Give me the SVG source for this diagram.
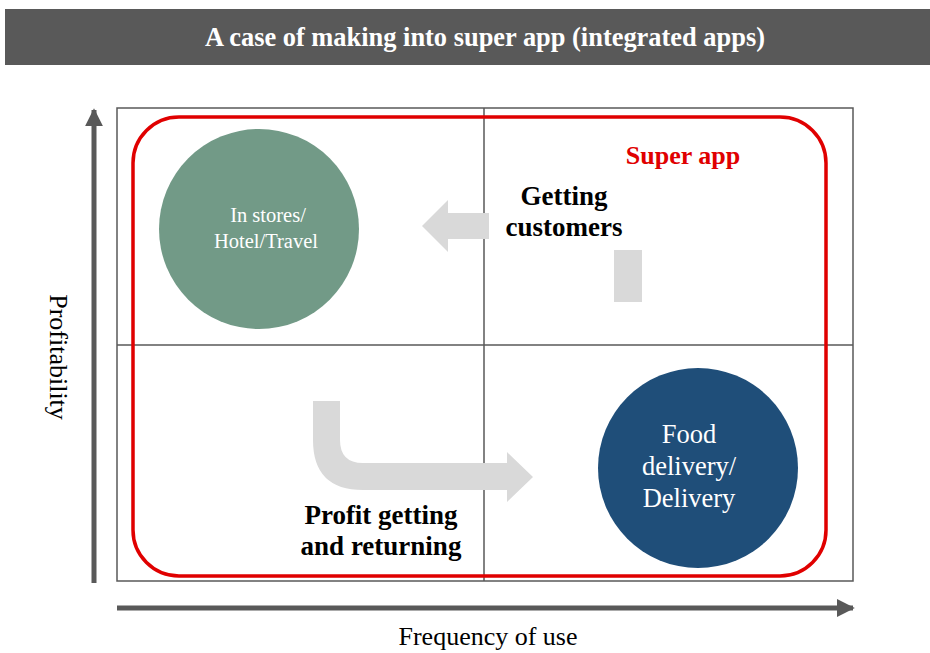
<svg xmlns="http://www.w3.org/2000/svg" width="930" height="653" viewBox="0 0 930 653">
<style>
text{font-family:"Liberation Serif","Times New Roman",serif}
.b{font-weight:bold}
.grid{fill:none;stroke:#595959;stroke-width:1.5}
.gray{fill:#d9d9d9}
</style>
<defs>
<marker id="ah" viewBox="0 0 10 10" refX="9" refY="5" markerWidth="3.6" markerHeight="3.6" orient="auto" markerUnits="strokeWidth">
<path d="M0,0 L10,5 L0,10 Z" fill="#595959"/>
</marker>
</defs>
<rect width="930" height="653" fill="#fff"/>
<g id="title">
<rect x="5" y="9" width="925" height="56" fill="#595959"/>
<text class="b" x="485" y="46" font-size="27" fill="#fff" text-anchor="middle" textLength="560" lengthAdjust="spacingAndGlyphs">A case of making into super app (integrated apps)</text>
</g>
<g id="grid">
<rect class="grid" x="117" y="108" width="736" height="473"/>
<line class="grid" x1="484" y1="108" x2="484" y2="581"/>
<line class="grid" x1="117" y1="345" x2="853" y2="345"/>
</g>
<g id="axes">
<line x1="94" y1="583" x2="94" y2="110" stroke="#595959" stroke-width="5" marker-end="url(#ah)"/>
<line x1="117" y1="608" x2="853" y2="608" stroke="#595959" stroke-width="5" marker-end="url(#ah)"/>
<text x="0" y="0" font-size="26" fill="#000" text-anchor="middle" transform="translate(50,357) rotate(90)">Profitability</text>
<text x="488" y="645" font-size="26" fill="#000" text-anchor="middle">Frequency of use</text>
</g>
<g id="superapp">
<rect x="133" y="117" width="693" height="459" rx="46" fill="none" stroke="#e00000" stroke-width="3.5"/>
<text class="b" x="683" y="164" font-size="26" fill="#e00000" text-anchor="middle">Super app</text>
</g>
<g id="connectors">
<path class="gray" d="M489,213 L448,213 L448,200 L422,226 L448,252 L448,239 L489,239 Z"/>
<rect class="gray" x="614" y="250" width="28" height="52"/>
<path class="gray" d="M313,401 L340,401 L340,440 Q340,463 363,463 L507,463 L507,452 L533,477 L507,502 L507,490 L363,490 Q313,490 313,440 Z"/>
</g>
<g id="label-customers">
<text class="b" x="564" y="205" font-size="27" fill="#000" text-anchor="middle">Getting</text>
<text class="b" x="564" y="236" font-size="27" fill="#000" text-anchor="middle">customers</text>
</g>
<g id="label-profit">
<text class="b" x="381" y="524" font-size="27" fill="#000" text-anchor="middle">Profit getting</text>
<text class="b" x="381" y="555" font-size="27" fill="#000" text-anchor="middle">and returning</text>
</g>
<g id="node-stores">
<circle cx="259" cy="229" r="100" fill="#729a87"/>
<text x="268" y="222" font-size="20.5" fill="#fff" text-anchor="middle">In stores/</text>
<text x="266" y="248" font-size="20.5" fill="#fff" text-anchor="middle">Hotel/Travel</text>
</g>
<g id="node-delivery">
<circle cx="698" cy="468" r="100" fill="#1f4e79"/>
<text x="689" y="443" font-size="26.5" fill="#fff" text-anchor="middle">Food</text>
<text x="689" y="475" font-size="26.5" fill="#fff" text-anchor="middle">delivery/</text>
<text x="689" y="507" font-size="26.5" fill="#fff" text-anchor="middle">Delivery</text>
</g>
</svg>
